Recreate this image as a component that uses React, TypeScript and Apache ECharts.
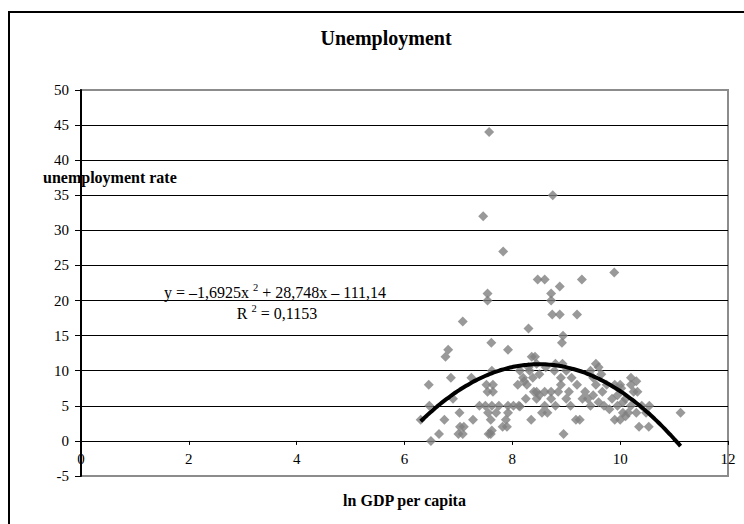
import React, { useEffect, useRef } from "react";
import * as echarts from "echarts";

// ln GDP per capita (x) and unemployment rate (y), one entry per country
const lnGdpPerCapita = [
  7.57, 8.75, 7.46, 7.83, 9.89, 8.47, 8.6, 9.29, 8.88, 7.54,
  7.54, 8.72, 8.72, 8.74, 8.88, 9.2, 7.08, 8.3, 8.94, 8.92,
  7.61, 6.81, 7.92, 6.76, 8.36, 8.42, 8.8, 8.93, 9.55, 9.6,
  8.45, 8.3, 6.45, 6.46, 6.3, 6.49, 6.64, 6.74, 6.86, 6.9,
  7.02, 7.0, 7.08, 7.03, 7.1, 7.24, 7.27, 7.52, 7.54, 7.39,
  7.64, 7.5, 7.62, 7.55, 7.6, 7.56, 7.62, 7.6, 7.7, 7.75,
  7.88, 7.82, 7.9, 7.62, 7.64, 7.92, 8.02, 8.12, 7.92, 8.14,
  8.2, 8.22, 8.1, 8.27, 8.32, 8.38, 8.35, 8.14, 8.45, 8.5,
  8.45, 8.6, 8.72, 8.85, 8.6, 8.65, 8.72, 8.8, 8.9, 8.9,
  8.95, 8.62, 8.78, 9.0, 8.5, 9.18, 9.25, 9.3, 9.4, 9.45,
  9.1, 9.05, 9.2, 9.35, 9.5, 9.45, 9.65, 9.67, 9.7, 9.75,
  9.85, 9.9, 9.9, 10.0, 10.0, 10.02, 9.95, 10.05, 9.8, 10.1,
  10.2, 10.2, 10.25, 10.3, 10.32, 10.15, 10.2, 10.3, 10.4, 10.48,
  10.35, 10.53, 10.54, 11.12, 9.6, 9.5, 10.1, 9.0, 9.08, 8.55,
  8.25, 8.4, 9.55, 9.95, 10.05,
];

const unemploymentRate = [
  44, 35, 32, 27, 24, 23, 23, 23, 22, 21,
  20, 21, 20, 18, 18, 18, 17, 16, 15, 14,
  14, 13, 13, 12, 12, 12, 11, 11, 11, 10.5,
  11, 10.5, 8, 5, 3, 0, 1, 3, 9, 6,
  4, 1, 1, 2, 2, 9, 3, 8, 7, 5,
  7, 5, 5, 4, 3, 1, 1.5, 1, 4, 5,
  3, 2, 2, 10, 8, 5, 5, 5, 4, 10,
  9, 8.5, 8, 8, 10, 9, 3, 4.9, 6, 6.5,
  7, 7, 7, 7, 5, 4, 6, 5, 9, 8,
  1, 10.5, 10, 10, 9.5, 3, 3, 6, 6, 5,
  9, 7, 8, 7, 9, 10, 9.5, 7, 5, 8,
  6, 8, 3, 3, 8, 7.5, 5, 4, 4.5, 6,
  9, 8, 7, 8.5, 7, 4, 5, 4, 5, 4,
  2, 2, 5, 4, 5.5, 6.5, 3.5, 6, 5, 4,
  6, 7, 8, 6.5, 5.5,
];

// Polynomial trendline coefficients (order 2): a*x^2 + b*x + c
const trendCoefficients = [-1.6925, 28.748, -111.14];
const trendEquation = ["y = –1,6925x ", "2", " + 28,748x – 111,14"];
const trendRSquared = ["R ", "2", " = 0,1153"];

const xTicks = [0, 12, 2];
const yTicks = [-5, 50, 5];

const FONT = "'Liberation Serif', 'Times New Roman', serif";

// plot area
const GRID_TOP = 90;
const GRID_HEIGHT = 386;

const richLabel = {
  n: { fontFamily: FONT, fontSize: 16, fill: "#000", lineHeight: 20, verticalAlign: "middle" },
  s: { fontFamily: FONT, fontSize: 10.5, fill: "#000", lineHeight: 10, verticalAlign: "top" },
};

export default function App() {
  const ref = useRef<HTMLDivElement>(null);

  useEffect(() => {
    if (!ref.current) return;
    const chart = echarts.init(ref.current, null, { renderer: "svg" });

    const points = lnGdpPerCapita.map((x, i) => [x, unemploymentRate[i]]);

    const [a, b, c] = trendCoefficients;
    const xMin = Math.min(...lnGdpPerCapita);
    const xMax = Math.max(...lnGdpPerCapita);
    const steps = 80;
    const trend: number[][] = [];
    for (let i = 0; i <= steps; i++) {
      const x = xMin + ((xMax - xMin) * i) / steps;
      trend.push([x, a * x * x + b * x + c]);
    }

    // the x axis crosses the y axis at 0: lift it from the bottom edge by the -5..0 band
    const zeroOffset = -(GRID_HEIGHT * (0 - yTicks[0])) / (yTicks[1] - yTicks[0]);

    chart.setOption({
      animation: false,
      backgroundColor: "#ffffff",
      textStyle: { fontFamily: FONT },
      title: {
        text: "Unemployment",
        left: 381,
        top: 23,
        textAlign: "center",
        textStyle: { fontFamily: FONT, fontSize: 20, fontWeight: "bold", color: "#000" },
      },
      grid: {
        left: 81,
        top: GRID_TOP,
        width: 647,
        height: GRID_HEIGHT,
        outerBoundsMode: "none",
        containLabel: false,
        show: true,
        borderColor: "#8c8c8c",
        borderWidth: 2,
        backgroundColor: "transparent",
      },
      xAxis: {
        type: "value",
        position: "bottom",
        offset: zeroOffset,
        min: xTicks[0],
        max: xTicks[1],
        interval: xTicks[2],
        name: "ln GDP per capita",
        nameLocation: "middle",
        nameGap: 52,
        nameTextStyle: { fontFamily: FONT, fontSize: 16, fontWeight: "bold", color: "#000" },
        axisLine: { show: true, onZero: false, lineStyle: { color: "#000", width: 1 } },
        axisTick: { show: true, inside: false, length: 4, lineStyle: { color: "#000" } },
        axisLabel: { fontFamily: FONT, fontSize: 15, color: "#000", margin: 11 },
        splitLine: { show: false },
      },
      yAxis: {
        type: "value",
        min: yTicks[0],
        max: yTicks[1],
        interval: yTicks[2],
        axisLine: { show: true, onZero: false, lineStyle: { color: "#000", width: 2 } },
        axisTick: { show: true, inside: false, length: 6, lineStyle: { color: "#000" } },
        axisLabel: { fontFamily: FONT, fontSize: 15, color: "#000", margin: 12 },
        splitLine: {
          show: true,
          showMinLine: false,
          showMaxLine: false,
          lineStyle: { color: "#000", width: 1 },
        },
      },
      graphic: [
        {
          type: "polyline",
          shape: { points: [[9, 700], [9, 12], [900, 12]] },
          style: { fill: "none", stroke: "#000", lineWidth: 2 },
          silent: true,
          z: 100,
        },
        {
          type: "text",
          x: 43,
          y: 177,
          z: 100,
          style: {
            text: "unemployment rate",
            fontFamily: FONT,
            fontSize: 16,
            fontWeight: "bold",
            fill: "#000",
            verticalAlign: "middle",
            textAlign: "left",
          },
        },
        {
          type: "text",
          x: 275,
          y: 292,
          z: 100,
          style: {
            text: `{n|${trendEquation[0]}}{s|${trendEquation[1]}}{n|${trendEquation[2]}}`,
            textAlign: "center",
            verticalAlign: "middle",
            rich: richLabel,
          },
        },
        {
          type: "text",
          x: 277,
          y: 313,
          z: 100,
          style: {
            text: `{n|${trendRSquared[0]}}{s|${trendRSquared[1]}}{n|${trendRSquared[2]}}`,
            textAlign: "center",
            verticalAlign: "middle",
            rich: richLabel,
          },
        },
      ],
      series: [
        {
          type: "scatter",
          data: points,
          symbol: "diamond",
          symbolSize: 10,
          itemStyle: { color: "#808080" },
          z: 3,
        },
        {
          type: "line",
          data: trend,
          showSymbol: false,
          symbol: "none",
          smooth: true,
          lineStyle: { color: "#000", width: 4 },
          z: 4,
        },
      ],
    });

    return () => chart.dispose();
  }, []);

  return (
    <div
      ref={ref}
      style={{ position: "absolute", left: 0, top: 0, width: 744, height: 524, background: "#fff" }}
    />
  );
}
